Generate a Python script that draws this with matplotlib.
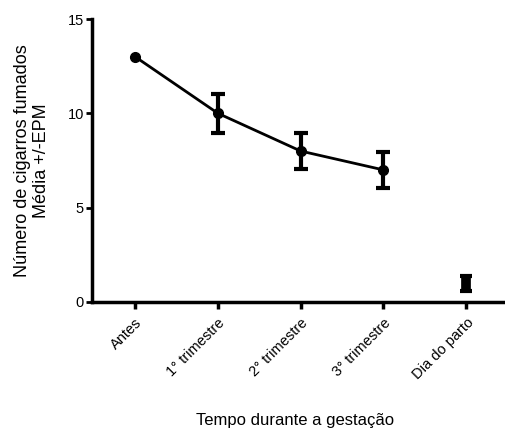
import matplotlib
matplotlib.use("Agg")
import matplotlib.pyplot as plt

categories = ["Antes", "1° trimestre", "2° trimestre", "3° trimestre", "Dia do parto"]
means = [13.0, 10.0, 8.0, 7.0, 1.0]
sem = [0.0, 1.05, 0.95, 0.95, 0.4]
yticks = [0, 5, 10, 15]

plt.rcParams['font.family'] = ['Liberation Sans', 'DejaVu Sans']

fig = plt.figure(figsize=(5.06, 4.32), dpi=100)
ax = fig.add_axes([0.182, 0.301, 0.818, 0.655])

x = list(range(len(categories)))
# connected series (first four)
ax.plot(x[:4], means[:4], color='black', lw=2, marker='o', ms=7)
ex = [i for i in x if sem[i] > 0 and i < 4]
ax.errorbar(ex, [means[i] for i in ex], yerr=[sem[i] for i in ex], fmt='none',
            ecolor='black', capsize=5, capthick=3, elinewidth=3)
ax.errorbar(x[4:], means[4:], yerr=sem[4:], fmt='none', ecolor='black',
            capsize=4.5, capthick=3, elinewidth=7)

ax.set_xlim(-0.52, 4.48)
ax.set_ylim(0, 15)
ax.set_yticks(yticks)
ax.set_xticks(x)
ax.set_xticklabels(categories, rotation=45, ha='right', rotation_mode='anchor', fontsize=10.5)
ax.tick_params(axis='y', labelsize=10.5, length=4, width=2, pad=2)
ax.tick_params(axis='x', length=5, width=2.5, pad=5)
for s in ['top', 'right']:
    ax.spines[s].set_visible(False)
for s in ['left', 'bottom']:
    ax.spines[s].set_linewidth(2.5)
ax.set_ylabel("Número de cigarros fumados\nMédia +/-EPM", fontsize=13, linespacing=1.2)
ax.yaxis.set_label_coords(-0.101, 0.5)
ax.set_xlabel("Tempo durante a gestação", fontsize=12)
ax.xaxis.set_label_coords(0.49, -0.392)

fig.savefig("out.png", dpi=100)
